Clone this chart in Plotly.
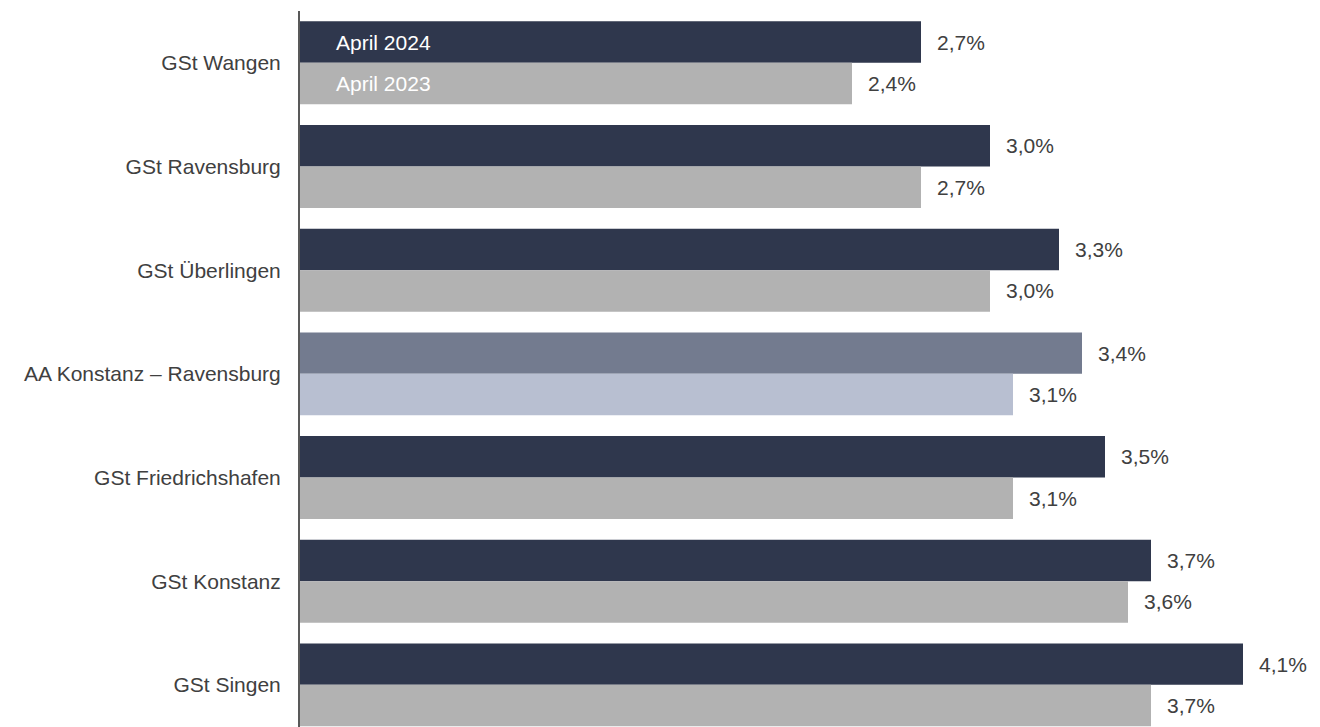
import plotly.graph_objects as go

categories = ["GSt Wangen", "GSt Ravensburg", "GSt Überlingen", "AA Konstanz – Ravensburg",
              "GSt Friedrichshafen", "GSt Konstanz", "GSt Singen"]
april_2024 = [2.7, 3.0, 3.3, 3.4, 3.5, 3.7, 4.1]
april_2023 = [2.4, 2.7, 3.0, 3.1, 3.1, 3.6, 3.7]
series_names = ["April 2024", "April 2023"]
highlight = "AA Konstanz – Ravensburg"

c24, c23 = "#2F374D", "#B2B2B2"
h24, h23 = "#737B8F", "#B8BFD1"
col24 = [h24 if c == highlight else c24 for c in categories]
col23 = [h23 if c == highlight else c23 for c in categories]

FONT = "Liberation Sans"
TXT = "#404040"
FS = 21

fig = go.Figure()
fig.add_trace(go.Bar(y=categories, x=april_2024, orientation="h", name=series_names[0],
                     marker=dict(color=col24, line=dict(width=0)), offsetgroup="a"))
fig.add_trace(go.Bar(y=categories, x=april_2023, orientation="h", name=series_names[1],
                     marker=dict(color=col23, line=dict(width=0)), offsetgroup="b"))

cat_px = 103.67
shift = 0.2 * cat_px
ann = []
for c, v24, v23 in zip(categories, april_2024, april_2023):
    for v, ys in ((v24, shift), (v23, -shift)):
        ann.append(dict(x=v, y=c, xref="x", yref="y", yshift=ys, xshift=14,
                        text=f"{v:.1f}".replace(".", ",") + "%", showarrow=False,
                        xanchor="left", yanchor="middle",
                        font=dict(family=FONT, size=FS, color=TXT)))
# series names inside first category bars
for name, ys in ((series_names[0], shift), (series_names[1], -shift)):
    ann.append(dict(x=0, y=categories[0], xref="x", yref="y", yshift=ys, xshift=34,
                    text=name, showarrow=False, xanchor="left", yanchor="middle",
                    font=dict(family=FONT, size=FS, color="white")))

plot_w = 1000
fig.update_layout(
    width=1312, height=719,
    margin=dict(l=292, r=20, t=3, b=0, autoexpand=False),
    paper_bgcolor="white", plot_bgcolor="white",
    barmode="group", bargap=0.2, bargroupgap=0,
    showlegend=False,
    font=dict(family=FONT, size=FS, color=TXT),
    annotations=ann,
    xaxis=dict(range=[0, plot_w / 230.0], visible=False, showgrid=False, zeroline=False, fixedrange=True),
    yaxis=dict(range=[-0.5 + 716 / cat_px, -0.5], type="category", showgrid=False, zeroline=False,
               showline=True, linecolor="#595959", linewidth=2, ticks="", ticklabelstandoff=13,
               tickfont=dict(family=FONT, size=FS, color=TXT), automargin=False),
)
fig.write_html("out.html")
